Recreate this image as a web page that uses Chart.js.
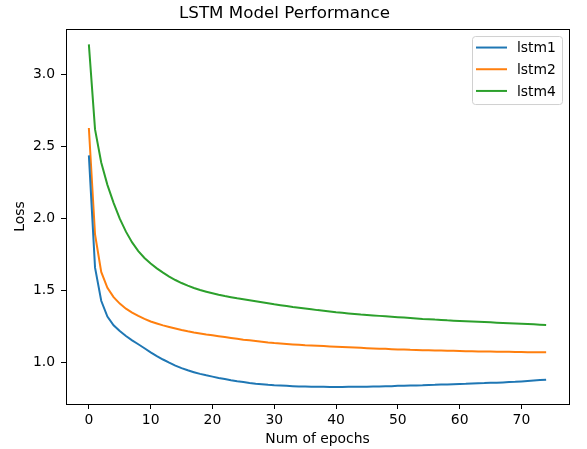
<!DOCTYPE html>
<html>
<head>
<meta charset="utf-8">
<script src="https://cdn.jsdelivr.net/npm/chart.js@4.4.1/dist/chart.umd.min.js"></script>
<style>
  html, body { margin: 0; padding: 0; background: #fff; }
  #chart { display: block; }
</style>
</head>
<body>
<canvas id="chart" width="587" height="449"></canvas>
<script>
// epochs on the x axis
const epochs = [
  0, 1, 2, 3, 4, 5, 6, 7, 8, 9, 10, 11, 12, 13, 14, 15, 16, 17, 18, 19,
  20, 21, 22, 23, 24, 25, 26, 27, 28, 29, 30, 31, 32, 33, 34, 35, 36, 37, 38, 39,
  40, 41, 42, 43, 44, 45, 46, 47, 48, 49, 50, 51, 52, 53, 54, 55, 56, 57, 58, 59,
  60, 61, 62, 63, 64, 65, 66, 67, 68, 69, 70, 71, 72, 73, 74
];

const lstm1 = [
  2.44, 1.66, 1.43, 1.32, 1.26, 1.22, 1.185, 1.155, 1.128, 1.10,
  1.072, 1.046, 1.022, 1.0, 0.98, 0.962, 0.947, 0.934, 0.922, 0.912,
  0.903, 0.894, 0.886, 0.878, 0.871, 0.865, 0.859, 0.854, 0.85, 0.846,
  0.843, 0.841, 0.839, 0.837, 0.835, 0.834, 0.833, 0.832, 0.832, 0.831,
  0.831, 0.831, 0.832, 0.832, 0.833, 0.833, 0.834, 0.835, 0.836, 0.837,
  0.839, 0.840, 0.841, 0.842, 0.843, 0.845, 0.846, 0.848, 0.849, 0.851,
  0.852, 0.853, 0.855, 0.857, 0.858, 0.860, 0.861, 0.863, 0.865, 0.867,
  0.870, 0.873, 0.876, 0.879, 0.882
];

const lstm2 = [
  2.63, 1.89, 1.63, 1.52, 1.455, 1.41, 1.375, 1.348, 1.325, 1.304,
  1.286, 1.272, 1.259, 1.248, 1.237, 1.227, 1.218, 1.21, 1.203, 1.196,
  1.19, 1.184, 1.178, 1.172, 1.166, 1.16, 1.155, 1.15, 1.145, 1.14,
  1.136, 1.133, 1.13, 1.127, 1.124, 1.121, 1.119, 1.117, 1.115, 1.113,
  1.111, 1.109, 1.107, 1.105, 1.103, 1.101, 1.099, 1.097, 1.096, 1.094,
  1.092, 1.091, 1.089, 1.088, 1.087, 1.086, 1.085, 1.084, 1.083, 1.082,
  1.081, 1.080, 1.079, 1.078, 1.077, 1.077, 1.076, 1.075, 1.075, 1.074,
  1.074, 1.073, 1.073, 1.072, 1.072
];

const lstm4 = [
  3.21, 2.62, 2.39, 2.235, 2.11, 2.0, 1.91, 1.835, 1.775, 1.727,
  1.688, 1.655, 1.625, 1.598, 1.574, 1.553, 1.535, 1.519, 1.505, 1.493,
  1.482, 1.472, 1.463, 1.455, 1.447, 1.44, 1.433, 1.426, 1.419, 1.412,
  1.405, 1.399, 1.393, 1.387, 1.382, 1.377, 1.371, 1.365, 1.36, 1.355,
  1.35, 1.346, 1.342, 1.338, 1.334, 1.331, 1.328, 1.325, 1.322, 1.319,
  1.316, 1.313, 1.31, 1.307, 1.304, 1.302, 1.299, 1.297, 1.294, 1.292,
  1.29, 1.288, 1.286, 1.284, 1.282, 1.28, 1.278, 1.276, 1.274, 1.272,
  1.27, 1.268, 1.266, 1.264, 1.262
];

const seriesNames = ['lstm1', 'lstm2', 'lstm4'];
const seriesColors = ['#1f77b4', '#ff7f0e', '#2ca02c'];
const xTicks = [0, 10, 20, 30, 40, 50, 60, 70];
const yTicks = [1.0, 1.5, 2.0, 2.5, 3.0];
const xRange = [-3.7, 77.7];
const yRange = [0.713, 3.317];

const FONT = 'DejaVu Sans';

function toPoints(values) {
  return values.map((v, i) => ({ x: epochs[i], y: v }));
}

// legend box in the upper right corner, matplotlib style
const legendPlugin = {
  id: 'mplLegend',
  afterDraw(chart) {
    const ctx = chart.ctx;
    const a = chart.chartArea;
    const right = a.right - 7;
    const top = a.top + 7;
    const width = 90;
    const height = 68;
    const left = right - width;

    ctx.save();
    ctx.beginPath();
    ctx.roundRect(left + 0.5, top + 0.5, width, height, 3);
    ctx.fillStyle = 'rgba(255,255,255,0.8)';
    ctx.fill();
    ctx.strokeStyle = '#d0d0d0';
    ctx.lineWidth = 1;
    ctx.stroke();

    ctx.font = '13.9px "' + FONT + '"';
    ctx.textBaseline = 'middle';
    ctx.fillStyle = '#000';
    chart.data.datasets.forEach((ds, i) => {
      const y = top + 11.5 + i * 21.7;
      ctx.beginPath();
      ctx.moveTo(left + 4, y);
      ctx.lineTo(left + 35, y);
      ctx.strokeStyle = ds.borderColor;
      ctx.lineWidth = 2;
      ctx.stroke();
      ctx.fillText(ds.label, left + 45, y + 1);
    });
    ctx.restore();
  }
};

const datasets = [lstm1, lstm2, lstm4].map((values, i) => ({
  label: seriesNames[i],
  data: toPoints(values),
  borderColor: seriesColors[i],
  backgroundColor: seriesColors[i],
  borderWidth: 2,
  pointRadius: 0,
  tension: 0,
  fill: false
}));

// empty axes on top and right, only there to close the frame
const spineAxis = (position, range) => ({
  type: 'linear',
  position: position,
  display: true,
  min: range[0],
  max: range[1],
  afterFit: s => { if (s.isHorizontal()) s.height = 0; else s.width = 0; },
  border: { display: true, color: '#000', width: 1 },
  grid: { display: false, drawOnChartArea: false, drawTicks: false },
  ticks: { display: false }
});

new Chart(document.getElementById('chart'), {
  type: 'line',
  data: { datasets: datasets },
  options: {
    responsive: false,
    animation: false,
    layout: { padding: { left: 0, right: 18, top: 0, bottom: 0 } },
    plugins: {
      legend: { display: false },
      tooltip: { enabled: false },
      title: {
        display: true,
        text: 'LSTM Model Performance',
        color: '#000',
        font: { family: FONT, size: 16.7, weight: 'normal', lineHeight: 1.2 },
        padding: { top: 4, bottom: 5 }
      }
    },
    scales: {
      x: {
        type: 'linear',
        position: 'bottom',
        min: xRange[0],
        max: xRange[1],
        afterBuildTicks: s => { s.ticks = xTicks.map(v => ({ value: v })); },
        afterFit: s => { s.height = 45; },
        border: { display: true, color: '#000', width: 1 },
        grid: { drawOnChartArea: false, drawTicks: true, tickLength: 5, color: '#000' },
        ticks: {
          color: '#000',
          padding: 3,
          maxRotation: 0,
          font: { family: FONT, size: 13.9 },
          callback: v => String(v)
        },
        title: {
          display: true,
          text: 'Num of epochs',
          color: '#000',
          font: { family: FONT, size: 13.9 },
          padding: { top: 0, bottom: 1 }
        }
      },
      y: {
        type: 'linear',
        position: 'left',
        min: yRange[0],
        max: yRange[1],
        afterBuildTicks: s => { s.ticks = yTicks.map(v => ({ value: v })); },
        afterFit: s => { s.width = 66; },
        border: { display: true, color: '#000', width: 1 },
        grid: { drawOnChartArea: false, drawTicks: true, tickLength: 5, color: '#000' },
        ticks: {
          color: '#000',
          padding: 6,
          font: { family: FONT, size: 13.9 },
          callback: v => Number(v).toFixed(1)
        },
        title: {
          display: true,
          text: 'Loss',
          color: '#000',
          font: { family: FONT, size: 13.9 },
          padding: { top: 12, bottom: 0 }
        }
      },
      xTop: spineAxis('top', xRange),
      yRight: spineAxis('right', yRange)
    }
  },
  plugins: [legendPlugin]
});
</script>
</body>
</html>
